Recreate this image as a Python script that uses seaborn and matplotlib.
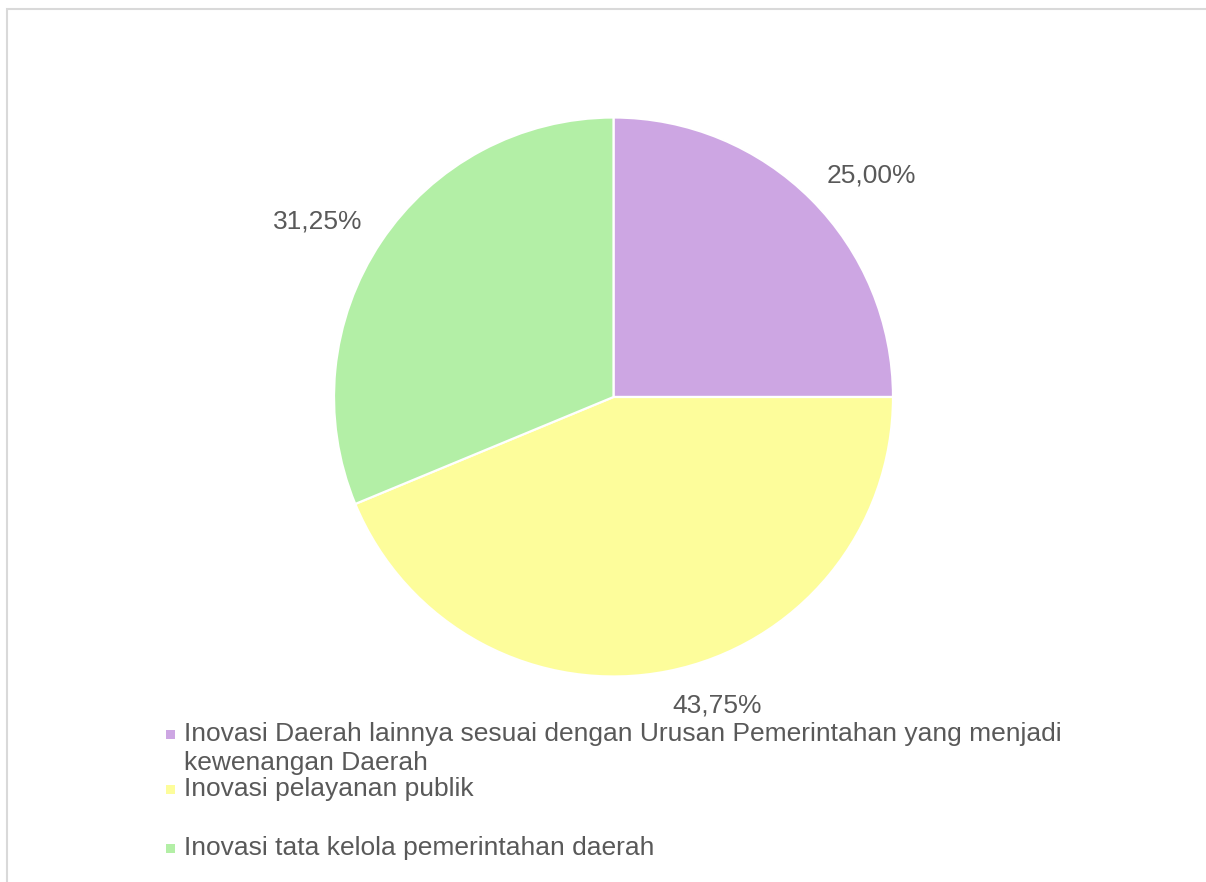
import numpy as np
import matplotlib
matplotlib.use("Agg")
import matplotlib.pyplot as plt
from matplotlib.patches import Rectangle
import seaborn as sns

categories = [
    "Inovasi Daerah lainnya sesuai dengan Urusan Pemerintahan yang menjadi\nkewenangan Daerah",
    "Inovasi pelayanan publik",
    "Inovasi tata kelola pemerintahan daerah",
]
shares = [25.00, 43.75, 31.25]
colors = ["#CDA6E3", "#FDFD9B", "#B3EFA6"]
pct_labels = ["25,00%", "43,75%", "31,25%"]

sns.set_theme(style="white")
plt.rcParams["font.family"] = ["Liberation Sans", "DejaVu Sans"]
text_color = "#595959"
fs = 19

W, H = 1206, 882
fig = plt.figure(figsize=(W / 100, H / 100), dpi=100)
fig.patch.set_facecolor("white")

# chart-area frame (right and bottom edges run off the canvas)
fig.patches.append(Rectangle((6.5 / W, -0.5), 2.0, 1.5 - 8.5 / H,
                             transform=fig.transFigure, fill=False,
                             edgecolor="#D9D9D9", linewidth=1.5))

cx, cy, r = 613.5, 397, 279.5
ax = fig.add_axes([(cx - r) / W, (H - cy - r) / H, 2 * r / W, 2 * r / H])
wedges, _ = ax.pie(shares, colors=colors, startangle=90, counterclock=False,
                   radius=1.0,
                   wedgeprops=dict(edgecolor="white", linewidth=1.6))
ax.set_xlim(-1, 1)
ax.set_ylim(-1, 1)
ax.set_aspect("equal")
ax.axis("off")

# percentage labels just outside each slice
for w, lab in zip(wedges, pct_labels):
    ang = np.deg2rad((w.theta1 + w.theta2) / 2)
    c, s = np.cos(ang), np.sin(ang)
    x, y = 1.08 * c, 1.08 * s
    ha = "left" if c > 0 else "right"
    va = "bottom" if s > 0 else "top"
    if s > 0:
        y -= 0.015
    ax.text(x, y, lab, ha=ha, va=va, fontsize=fs, color=text_color)

# legend entries
rows = [734, 789, 848]
for cat, col, yy in zip(categories, colors, rows):
    fig.patches.append(Rectangle((166 / W, (H - yy - 4.5) / H), 9 / W, 9 / H,
                                 transform=fig.transFigure, facecolor=col,
                                 edgecolor="none"))
    fig.text(184 / W, (H - yy + 12) / H, cat, ha="left", va="top",
             fontsize=fs, color=text_color, linespacing=1.25)

fig.savefig("out.png", dpi=100)
